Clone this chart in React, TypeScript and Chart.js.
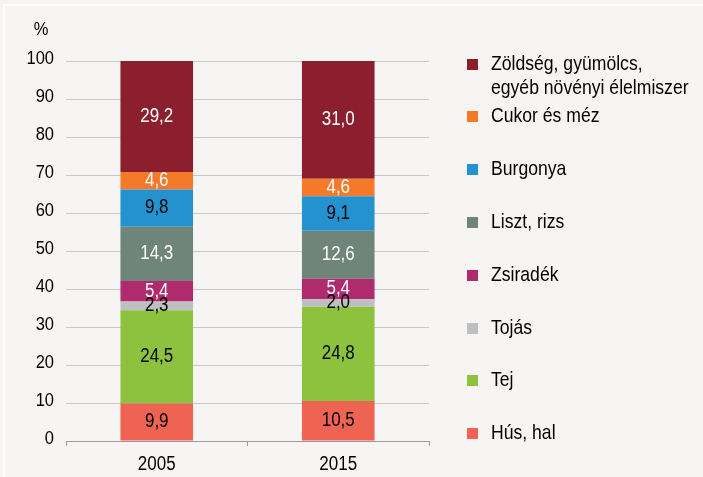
import React, { useEffect, useRef } from "react";
import { Chart, registerables } from "chart.js";

Chart.register(...registerables);

const categories = ["2005", "2015"];
// stack order bottom -> top
const seriesNames = [
  "Hús, hal",
  "Tej",
  "Tojás",
  "Zsiradék",
  "Liszt, rizs",
  "Burgonya",
  "Cukor és méz",
  "Zöldség, gyümölcs, egyéb növényi élelmiszer",
];
const legendLines = [
  ["Hús, hal"],
  ["Tej"],
  ["Tojás"],
  ["Zsiradék"],
  ["Liszt, rizs"],
  ["Burgonya"],
  ["Cukor és méz"],
  ["Zöldség, gyümölcs,", "egyéb növényi élelmiszer"],
];
const husHal = [9.9, 10.5];
const tej = [24.5, 24.8];
const tojas = [2.3, 2.0];
const zsiradek = [5.4, 5.4];
const lisztRizs = [14.3, 12.6];
const burgonya = [9.8, 9.1];
const cukorMez = [4.6, 4.6];
const zoldseg = [29.2, 31.0];
const seriesValues = [husHal, tej, tojas, zsiradek, lisztRizs, burgonya, cukorMez, zoldseg];
const seriesColors = [
  "#EE6352",
  "#8DC23F",
  "#BDBFC1",
  "#B02A6E",
  "#6F857A",
  "#2592D0",
  "#F47A2A",
  "#8B1F2D",
];
const labelColors = ["#000", "#000", "#000", "#fff", "#fff", "#000", "#fff", "#fff"];
const yTicks = [0, 10, 20, 30, 40, 50, 60, 70, 80, 90, 100];

const FONT = "'Liberation Sans', Arial, sans-serif";
const STRETCH = 1.14;

function drawText(ctx: CanvasRenderingContext2D, text: string, x: number, y: number, align: CanvasTextAlign, size: number, color: string) {
  ctx.save();
  ctx.translate(x, y);
  ctx.scale(1, STRETCH);
  ctx.font = `${size}px ${FONT}`;
  ctx.textAlign = align;
  ctx.textBaseline = "middle";
  ctx.fillStyle = color;
  ctx.fillText(text, 0, 0);
  ctx.restore();
}

export default function App() {
  const ref = useRef<HTMLCanvasElement>(null);
  useEffect(() => {
    const canvas = ref.current!;
    const bgPlugin = {
      id: "bg",
      beforeDraw(chart: any) {
        const ctx = chart.ctx;
        ctx.save();
        ctx.fillStyle = "#F6F5F3";
        ctx.fillRect(0, 0, chart.width, chart.height);
        ctx.fillStyle = "#FFFFFF";
        ctx.fillRect(3, 4, chart.width - 3, 2);
        ctx.fillRect(3, 4, 2, chart.height - 4);
        ctx.restore();
      },
    };
    const labelPlugin = {
      id: "labels",
      afterDraw(chart: any) {
        const ctx = chart.ctx;
        // data labels
        chart.data.datasets.forEach((ds: any, i: number) => {
          const meta = chart.getDatasetMeta(i);
          meta.data.forEach((el: any, j: number) => {
            const v = ds.data[j];
            drawText(ctx, v.toFixed(1).replace(".", ","), el.x, (el.y + el.base) / 2, "center", 17, labelColors[i]);
          });
        });
        // y tick labels
        const y = chart.scales.y;
        yTicks.forEach((v) => {
          drawText(ctx, String(v), 54, y.getPixelForValue(v) - 2, "right", 16.5, "#000");
        });
        // x tick labels
        const x = chart.scales.x;
        categories.forEach((c, i) => {
          drawText(ctx, c, x.getPixelForValue(i), 465, "center", 17, "#000");
        });
        // % title
        drawText(ctx, "%", 41, 29.5, "center", 16.5, "#000");
        // legend
        const centers = [433.5, 380.5, 328.5, 275.5, 222.5, 169.5, 116.5, 64.5];
        legendLines.forEach((lines, i) => {
          const cy = centers[i];
          ctx.fillStyle = seriesColors[i];
          ctx.fillRect(467, cy - 5.5, 11, 11);
          lines.forEach((t, k) => {
            drawText(ctx, t, 491, cy + k * 24, "left", 17.6, "#000");
          });
        });
      },
    };
    const chart = new Chart(canvas, {
      type: "bar",
      data: {
        labels: categories,
        datasets: seriesNames.map((name, i) => ({
          label: name,
          data: seriesValues[i],
          backgroundColor: seriesColors[i],
          borderWidth: 0,
          barPercentage: 0.8,
          categoryPercentage: 0.5,
        })),
      },
      options: {
        responsive: false,
        animation: false,
        layout: { padding: { left: 0, top: 61, right: 274, bottom: 0 } },
        plugins: { legend: { display: false }, tooltip: { enabled: false } },
        scales: {
          x: {
            stacked: true,
            grid: {
              drawOnChartArea: false,
              drawTicks: true,
              tickLength: 5,
              color: "#9A9A9A",
              offset: true,
            },
            border: { color: "#9A9A9A", width: 1 },
            ticks: { display: false },
            afterFit(scale: any) {
              scale.height = 36;
            },
          },
          y: {
            stacked: true,
            min: 0,
            max: 100,
            afterBuildTicks(scale: any) {
              scale.ticks = yTicks.map((v) => ({ value: v }));
            },
            grid: { color: "#C8C8C8", drawTicks: false, lineWidth: 1 },
            border: { display: false },
            ticks: { display: false },
            afterFit(scale: any) {
              scale.width = 66;
            },
          },
        },
      },
      plugins: [bgPlugin, labelPlugin],
    });
    return () => chart.destroy();
  }, []);
  return (
    <div style={{ position: "fixed", left: 0, top: 0, width: 703, height: 477 }}>
      <canvas ref={ref} width={703} height={477} style={{ display: "block" }} />
    </div>
  );
}
